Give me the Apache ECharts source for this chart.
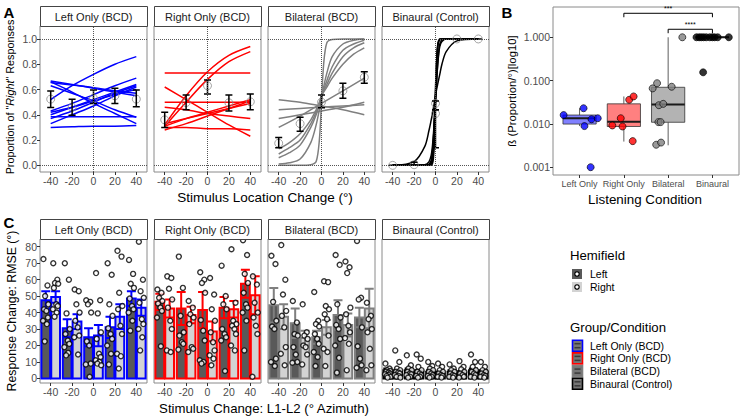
<!DOCTYPE html>
<html>
<head>
<meta charset="utf-8">
<script src="https://cdn.jsdelivr.net/npm/echarts@6/dist/echarts.min.js"></script>
<style>
  html, body { margin: 0; padding: 0; background: #fff; }
  #chart { width: 742px; height: 418px; }
</style>
</head>
<body>
<div id="chart"></div>
<script>
// ---------- data ----------
const panels = ['Left Only (BCD)', 'Right Only (BCD)', 'Bilateral (BCD)', 'Binaural (Control)'];
const stimX = [-40, -20, 0, 20, 40];

// A: fitted psychometric curves (y at stimX)
const leftCurves = [
  [0.52, 0.63, 0.72, 0.80, 0.86],
  [0.43, 0.49, 0.56, 0.63, 0.69],
  [0.40, 0.46, 0.52, 0.58, 0.64],
  [0.37, 0.43, 0.50, 0.57, 0.63],
  [0.33, 0.40, 0.47, 0.55, 0.62],
  [0.42, 0.46, 0.51, 0.56, 0.60],
  [0.667, 0.64, 0.61, 0.58, 0.55],
  [0.655, 0.635, 0.615, 0.59, 0.57],
  [0.63, 0.57, 0.51, 0.44, 0.38],
  [0.66, 0.58, 0.49, 0.41, 0.33],
  [0.385, 0.385, 0.385, 0.385, 0.385],
  [0.30, 0.305, 0.31, 0.31, 0.315]
];
const rightCurves = [
  [0.73, 0.73, 0.73, 0.73, 0.73],
  [0.32, 0.55, 0.74, 0.87, 0.94],
  [0.31, 0.50, 0.68, 0.82, 0.90],
  [0.50, 0.50, 0.50, 0.50, 0.50],
  [0.31, 0.37, 0.42, 0.47, 0.52],
  [0.28, 0.33, 0.39, 0.45, 0.51],
  [0.33, 0.37, 0.41, 0.45, 0.49],
  [0.62, 0.52, 0.42, 0.32, 0.23],
  [0.46, 0.44, 0.41, 0.39, 0.37],
  [0.30, 0.30, 0.29, 0.29, 0.28]
];
const bilatSteepX = [-40, -30, -20, -10, -5, -2, 0, 2, 5, 10, 20, 30, 40];
const bilatSteep = [
  [0, 0, 0, 0.005, 0.03, 0.2, 0.5, 0.8, 0.97, 0.995, 1, 1, 1],
  [0.01, 0.02, 0.05, 0.18, 0.32, 0.44, 0.53, 0.62, 0.73, 0.86, 0.96, 0.99, 1.0],
  [0.06, 0.1, 0.16, 0.3, 0.4, 0.48, 0.54, 0.6, 0.67, 0.78, 0.91, 0.96, 0.99],
  [0.09, 0.14, 0.2, 0.33, 0.42, 0.49, 0.55, 0.59, 0.64, 0.73, 0.86, 0.93, 0.97],
  [0.13, 0.18, 0.25, 0.36, 0.44, 0.5, 0.55, 0.58, 0.62, 0.69, 0.8, 0.88, 0.93]
];
const bilatFlat = [
  [0.52, 0.50, 0.47, 0.44, 0.40],
  [0.44, 0.45, 0.46, 0.47, 0.48],
  [0.37, 0.40, 0.43, 0.46, 0.50],
  [0.30, 0.39, 0.49, 0.59, 0.69]
];
const binauralX = [-40, -20, -10, -6, -4, -3, -2, -1, 0, 1, 2, 3, 4, 6, 10, 20, 40];
const binauralCurves = [
  [0, 0.03, 0.15, 0.28, 0.36, 0.4, 0.45, 0.5, 0.55, 0.6, 0.64, 0.68, 0.72, 0.8, 0.9, 0.985, 1],
  [0, 0, 0, 0, 0.01, 0.03, 0.1, 0.3, 0.55, 0.8, 0.93, 0.98, 0.99, 1, 1, 1, 1],
  [0, 0, 0, 0.01, 0.04, 0.1, 0.2, 0.35, 0.5, 0.65, 0.8, 0.9, 0.96, 0.99, 1, 1, 1],
  [0, 0, 0, 0, 0, 0.01, 0.05, 0.2, 0.5, 0.8, 0.95, 0.99, 1, 1, 1, 1, 1],
  [0, 0, 0.005, 0.03, 0.08, 0.14, 0.24, 0.37, 0.52, 0.67, 0.79, 0.88, 0.94, 0.98, 1, 1, 1],
  [0, 0, 0, 0, 0.02, 0.06, 0.18, 0.4, 0.62, 0.82, 0.94, 0.98, 1, 1, 1, 1, 1]
];
// A: group means [x, mean, lower, upper]
const meanLeft = [[-40, 0.524, 0.457, 0.588], [-20, 0.46, 0.396, 0.524], [0, 0.53, 0.489, 0.596], [20, 0.55, 0.49, 0.61], [40, 0.524, 0.463, 0.596]];
const meanRight = [[-40, 0.36, 0.30, 0.42], [-20, 0.497, 0.44, 0.556], [0, 0.63, 0.564, 0.675], [20, 0.495, 0.43, 0.556], [40, 0.503, 0.44, 0.564]];
const meanBilat = [[-40, 0.175, 0.14, 0.22], [-20, 0.33, 0.27, 0.38], [0, 0.50, 0.455, 0.556], [20, 0.59, 0.53, 0.65], [40, 0.697, 0.65, 0.74]];
const meanBinaural = [[-40, 0, 0, 0], [-20, 0.005, 0, 0.025], [0, 0.49, 0.44, 0.51], [0, 0.41, 0.14, 0.44], [20, 1, 1, 1], [40, 1, 1, 1]];

// B: slopes per listening condition
const condNames = ['Left Only', 'Right Only', 'Bilateral', 'Binaural'];
const boxStats = [   // [low whisker, Q1, median, Q3, high whisker]
  [0.0089, 0.0099, 0.0135, 0.0160, 0.023],
  [0.0039, 0.0087, 0.0112, 0.029, 0.043],
  [0.0032, 0.0109, 0.028, 0.070, 1.0],
  [1.0, 1.0, 1.0, 1.0, 1.0]
];
const betaVals = [
  [0.016, 0.023, 0.0089, 0.0128, 0.0135, 0.001],
  [0.0092, 0.0135, 0.0087, 0.036, 0.043, 0.0040],
  [0.066, 0.087, 0.072, 1.0, 0.027, 0.029, 0.011, 0.011, 0.0033, 0.0037],
  [1, 1, 1, 1, 1, 1, 1, 1, 1, 1, 0.155]
];
const betaJitter = [
  [-0.36, 0.09, 0.11, 0.27, 0.41, 0.25],
  [-0.26, -0.07, -0.03, 0.12, 0.22, 0.20],
  [-0.35, -0.25, 0.08, 0.32, -0.21, -0.11, -0.22, -0.17, -0.27, -0.16],
  [-0.36, -0.3, -0.25, -0.2, -0.14, -0.06, 0.0, 0.05, 0.12, 0.37, -0.21]
];
const sigBrackets = [[2, 4, 3.58, 2.9], [3, 4, 1.53, 1.24]];
const sigLabels = ['***', '****'];

// C: RMSE bars (mean, SE) per panel, hemifield Left = dark, Right = light
const barDark = [
  [47.5, 30.5, 25, 31, 48.5],
  [46.5, 42.5, 41.5, 43, 57.5],
  [44.5, 33.5, 25, 38.5, 37],
  [5, 5, 4, 4, 5]
];
const seDark = [
  [5.5, 5.5, 5.5, 6.5, 4.5],
  [5, 10, 11, 6.5, 8.5],
  [10.5, 9, 4, 9, 6],
  [1, 1, 1, 1, 1]
];
const barLight = [
  [49.5, 34.5, 26, 37.5, 43],
  [42.5, 38.5, 28.5, 42, 50.5],
  [37.5, 24.5, 31, 32.5, 42.5],
  [4, 4, 3, 3.5, 4]
];
const seLight = [
  [3.5, 4.5, 6.5, 7.5, 5],
  [5.5, 5, 6, 5, 11.5],
  [7.5, 4.5, 4.5, 7, 12],
  [1, 1, 1, 1, 1]
];
const ptsDark = [
  [[72.5, 56.5, 50, 45, 42, 41, 37, 35, 33, 22.5], [70, 60, 39.5, 30, 27, 23, 21, 19, 15.5, 14], [47.5, 46.5, 45, 40, 22.5, 20, 9, 8.5, 1], [70, 63, 45, 38, 30.5, 27, 24, 20, 15, 8.5], [72, 63.5, 57.5, 55, 48.5, 44, 42, 40, 35, 29]],
  [[54, 52, 49, 47, 45.5, 43, 41, 37, 19.5], [74, 55, 38, 28, 26, 22, 21, 17.5], [64.5, 60, 58, 52, 35.5, 29, 23, 11, 10, 9], [68.5, 50, 45, 42, 30, 27, 25, 23, 4.5], [84, 75, 63.5, 58, 52, 45, 43, 40, 35, 17]],
  [[74.5, 69.5, 46.5, 35, 31.5, 30, 12, 10, 7.5], [47, 34, 27, 26, 19, 14.5, 10, 9.5], [52.5, 35, 33, 31.5, 27, 24, 21, 16, 13, 7.5], [75, 69, 45, 37, 32.5, 30, 24, 20, 12.5, 3.5], [83.5, 49, 48, 31, 19.5, 12, 8, 6.5]],
  [[9, 6, 5, 4.5, 4, 3.5, 3, 2.5, 2, 1.5, 1, 0.5], [14, 8, 6, 5, 4, 3, 2.5, 2, 1, 0.5], [10, 7.5, 6, 5, 4, 3, 2, 1.5, 1, 0.5], [8.5, 6, 5, 4, 3, 2, 1.5, 1, 0.5], [14.5, 10, 7, 5, 4, 3, 2, 1, 0.5]]
];
const ptsLight = [
  [[70, 60, 58, 57.5, 55, 45, 44, 42, 40, 37.5], [54, 53, 45, 40, 35, 31, 26, 25, 14.5], [64, 47.5, 39.5, 28, 24, 15, 13, 11, 10, 9, 8], [77.5, 74, 52, 44, 42, 32, 27, 15, 13.5, 6], [83, 60, 53, 49, 46, 36, 33, 30, 25, 17]],
  [[62, 61, 54.5, 48, 43, 35, 30, 17, 16], [47, 43, 39, 37, 33, 19, 18, 16], [61, 51, 42, 35, 28, 22, 17, 14, 12, 8], [78.5, 46, 35, 33, 32, 30, 27, 20, 17], [62, 57, 46, 40, 37, 32, 27, 1]],
  [[81, 60, 51, 41, 38, 31, 19, 15, 8], [45, 28, 26, 24, 20, 19, 14.5, 8.5], [59, 58.5, 44, 42, 39, 36, 26, 18, 16, 7.5], [71, 67.5, 64, 43, 39, 32, 28, 24.5, 21, 5], [46, 38, 36, 30, 28, 18, 8, 5]],
  [[17, 10, 6, 5, 4, 3.5, 3, 2, 1.5, 1, 0.5], [14.5, 12, 7, 5, 4, 3, 2, 1.5, 1, 0.5], [9, 7, 5, 4, 3, 2, 1.5, 1, 0.5], [10.5, 7, 5.5, 4, 3, 2, 1, 0.5], [10, 7, 5, 4, 3, 2, 1.5, 1, 0.5]]
];

// ---------- styling / layout ----------
const FONT = '"Liberation Sans", Arial, sans-serif';
const groupColors = ['#0000ff', '#ff0000', '#7f7f7f', '#000000'];
const boxFills = ['#8080ff', '#ff8080', '#b3b3b3', '#b3b3b3'];
const hemiFills = ['#595959', '#d3d3d3'];
const PANEL_LEFT = [40, 154, 268, 382];
const PANEL_W = 107;
const DODGE = 4.6, BAR_W = 8.2, BOX_W = 0.75;
const JITTER = [-2.2, 1.6, -0.6, 2.4, -1.6, 0.6, 2.0, -2.6, 1.0, -1.0, 2.6, -0.2];

const grids = [], xAxes = [], yAxes = [], series = [], graphics = [];

function axis(min, max, ticks, showLabels, showTicks, fmt, extra) {
  return Object.assign({
    type: 'value', min: min, max: max,
    axisLine: { show: false, onZero: false },
    splitLine: { show: false },
    axisTick: { show: showTicks, length: 3, lineStyle: { color: '#333', width: 1 }, customValues: ticks },
    axisLabel: { show: showLabels, customValues: ticks, fontSize: 10.5, color: '#4d4d4d', margin: 3, fontFamily: FONT, formatter: fmt }
  }, extra || {});
}
function addGrid(l, t, w, h, xa, ya) {
  const idx = grids.length;
  grids.push({ left: l, top: t, width: w, height: h, show: true, borderColor: '#8a8a8a', borderWidth: 1 });
  xa.gridIndex = idx; ya.gridIndex = idx;
  xAxes.push(xa); yAxes.push(ya);
  return idx;
}
// error bar drawn as one path: lower cap, stem, upper cap
function errBar(color, capPx, lw) {
  return function (params, api) {
    const x = api.value(0);
    const lo = api.coord([x, api.value(1)]);
    const hi = api.coord([x, api.value(2)]);
    const h = capPx / 2;
    const d = 'M' + (lo[0] - h) + ' ' + lo[1] + 'L' + (lo[0] + h) + ' ' + lo[1] +
      'M' + lo[0] + ' ' + lo[1] + 'L' + hi[0] + ' ' + hi[1] +
      'M' + (hi[0] - h) + ' ' + hi[1] + 'L' + (hi[0] + h) + ' ' + hi[1];
    return { type: 'path', shape: { pathData: d }, style: { stroke: color, lineWidth: lw, fill: 'none' } };
  };
}
function strip(x, y, w, h, label) {
  graphics.push({ type: 'rect', shape: { x: x + 0.5, y: y + 0.5, width: w, height: h }, style: { fill: '#ffffff', stroke: '#444', lineWidth: 1 }, z: 10 });
  graphics.push({ type: 'text', x: x + w / 2, y: y + h / 2 + 1, style: { text: label, fontSize: 11, fontFamily: FONT, fill: '#1a1a1a', align: 'center', verticalAlign: 'middle' }, z: 11 });
}
function text(x, y, s, size, opts) {
  graphics.push(Object.assign({ type: 'text', x: x, y: y, style: Object.assign({ text: s, fontSize: size, fontFamily: FONT, fill: '#000', align: 'center', verticalAlign: 'middle' }, (opts && opts.style) || {}) }, (opts && opts.el) || {}));
}

// ---------- panel A ----------
const curveSets = [
  leftCurves.map(c => c.map((v, k) => [stimX[k], v])),
  rightCurves.map(c => c.map((v, k) => [stimX[k], v])),
  bilatSteep.map(c => c.map((v, k) => [bilatSteepX[k], v])).concat(bilatFlat.map(c => c.map((v, k) => [stimX[k], v]))),
  binauralCurves.map(c => c.map((v, k) => [binauralX[k], v]))
];
const meanSets = [meanLeft, meanRight, meanBilat, meanBinaural];
const yTicksA = [0, 0.2, 0.4, 0.6, 0.8, 1.0];

for (let p = 0; p < 4; p++) {
  const gi = addGrid(PANEL_LEFT[p], 26, PANEL_W, 146,
    axis(-50, 50, stimX, true, true, v => String(v)),
    axis(-0.0525, 1.1025, yTicksA, p === 0, p === 0, v => v.toFixed(1)));
  strip(PANEL_LEFT[p], 6, PANEL_W, 20, panels[p]);
  curveSets[p].forEach((c, ci) => {
    const s = {
      type: 'line', xAxisIndex: gi, yAxisIndex: gi, data: c, showSymbol: false, smooth: 0.3,
      lineStyle: { color: groupColors[p], width: 1.5 }, z: 2, silent: true
    };
    if (ci === 0) {
      s.markLine = {
        silent: true, symbol: 'none', label: { show: false },
        lineStyle: { type: 'dotted', color: '#555', width: 1 },
        data: [{ yAxis: 0 }, { yAxis: 1 }, { xAxis: 0 }]
      };
    }
    series.push(s);
  });
  series.push({
    type: 'scatter', xAxisIndex: gi, yAxisIndex: gi, symbolSize: 8, z: 3,
    itemStyle: { color: 'rgba(255,255,255,0)', borderColor: '#8c8c8c', borderWidth: 1 },
    data: meanSets[p].map(m => [m[0], m[1]])
  });
  series.push({
    type: 'custom', xAxisIndex: gi, yAxisIndex: gi, z: 4,
    renderItem: errBar('#000', 7, 1.5),
    encode: { x: 0, y: [1, 2] },
    data: meanSets[p].map(m => [m[0], m[2], m[3]])
  });
}

// ---------- panel B ----------
const gB = addGrid(553, 7, 186, 168,
  axis(0.4, 4.6, [1, 2, 3, 4], true, true, v => condNames[Math.round(v) - 1], { axisLabel: { customValues: [1, 2, 3, 4], fontSize: 9, color: '#4d4d4d', margin: 4, fontFamily: FONT, formatter: v => condNames[Math.round(v) - 1] } }),
  axis(0.00066, 5.0, [0.001, 0.01, 0.1, 1], true, true, v => Number(v).toFixed(3), { type: 'log', logBase: 10 }));
series.push({
  type: 'custom', xAxisIndex: gB, yAxisIndex: gB, z: 2,
  encode: { x: 0, y: [1, 2, 3, 4, 5] },
  data: boxStats.map((s, i) => [i + 1].concat(s)),
  renderItem: function (params, api) {
    const x = api.value(0);
    const c = v => api.coord([x, v]);
    const xl = api.coord([x - BOX_W / 2, api.value(3)])[0];
    const xr = api.coord([x + BOX_W / 2, api.value(3)])[0];
    const lo = c(api.value(1)), q1 = c(api.value(2)), md = c(api.value(3)), q3 = c(api.value(4)), hi = c(api.value(5));
    const st = { stroke: '#333', lineWidth: 0.8 };
    return { type: 'group', children: [
      { type: 'line', shape: { x1: lo[0], y1: lo[1], x2: q1[0], y2: q1[1] }, style: st },
      { type: 'line', shape: { x1: q3[0], y1: q3[1], x2: hi[0], y2: hi[1] }, style: st },
      { type: 'rect', shape: { x: xl, y: q3[1], width: xr - xl, height: q1[1] - q3[1] }, style: { fill: boxFills[params.dataIndex], stroke: '#333', lineWidth: 0.8 } },
      { type: 'line', shape: { x1: xl, y1: md[1], x2: xr, y2: md[1] }, style: { stroke: '#1a1a1a', lineWidth: 1.8 } }
    ] };
  }
});
betaVals.forEach((vals, i) => {
  series.push({
    type: 'scatter', xAxisIndex: gB, yAxisIndex: gB, symbolSize: 7, z: 3,
    itemStyle: { color: groupColors[i], borderColor: '#000', borderWidth: 0.8 },
    data: vals.map((v, k) => [i + 1 + betaJitter[i][k], v])
  });
});
series.push({
  type: 'custom', xAxisIndex: gB, yAxisIndex: gB, z: 4,
  encode: { x: [0, 1], y: [2, 3] },
  data: sigBrackets,
  renderItem: function (params, api) {
    const a = api.coord([api.value(0), api.value(2)]);
    const b = api.coord([api.value(1), api.value(2)]);
    const a2 = api.coord([api.value(0), api.value(3)]);
    const b2 = api.coord([api.value(1), api.value(3)]);
    return { type: 'group', children: [
      { type: 'polyline', shape: { points: [[a2[0], a2[1]], [a[0], a[1]], [b[0], b[1]], [b2[0], b2[1]]] }, style: { stroke: '#000', lineWidth: 1, fill: null } },
      { type: 'text', x: (a[0] + b[0]) / 2, y: a[1] - 1, style: { text: sigLabels[params.dataIndex], fontSize: 7, fontFamily: FONT, fill: '#000', align: 'center', verticalAlign: 'bottom' } }
    ] };
  }
});

// ---------- panel C ----------
const yTicksC = [0, 10, 20, 30, 40, 50, 60, 70, 80];
for (let p = 0; p < 4; p++) {
  const gi = addGrid(PANEL_LEFT[p], 239, PANEL_W, 144,
    axis(-50, 50, stimX, true, true, v => String(v)),
    axis(-2.8, 84.7, yTicksC, p === 0, p === 0, v => String(v)));
  strip(PANEL_LEFT[p], 219, PANEL_W, 20, panels[p]);
  const sides = [
    { side: -1, bars: barDark[p], se: seDark[p], pts: ptsDark[p], fill: hemiFills[0] },
    { side: 1, bars: barLight[p], se: seLight[p], pts: ptsLight[p], fill: hemiFills[1] }
  ];
  const col = groupColors[p];
  sides.forEach(sd => {
    series.push({
      type: 'custom', xAxisIndex: gi, yAxisIndex: gi, z: 2,
      encode: { x: 0, y: 1 },
      data: sd.bars.map((v, g) => [stimX[g] + sd.side * DODGE, v]),
      renderItem: function (params, api) {
        const x = api.value(0);
        const p0 = api.coord([x - BAR_W / 2, 0]);
        const p1 = api.coord([x + BAR_W / 2, api.value(1)]);
        return { type: 'rect', shape: { x: p0[0], y: p1[1], width: p1[0] - p0[0], height: p0[1] - p1[1] }, style: { fill: sd.fill, stroke: col, lineWidth: 2 } };
      }
    });
  });
  sides.forEach(sd => {
    series.push({
      type: 'custom', xAxisIndex: gi, yAxisIndex: gi, z: 3,
      encode: { x: 0, y: [1, 2] },
      renderItem: errBar(col, 9, 2),
      data: sd.bars.map((v, g) => [stimX[g] + sd.side * DODGE, v - sd.se[g], v + sd.se[g]])
    });
  });
  sides.forEach(sd => {
    const data = [];
    sd.pts.forEach((arr, g) => arr.forEach((v, k) => data.push([stimX[g] + sd.side * DODGE + JITTER[k % JITTER.length], v])));
    series.push({
      type: 'scatter', xAxisIndex: gi, yAxisIndex: gi, symbolSize: 5, z: 4,
      itemStyle: { color: '#ffffff', borderColor: '#000', borderWidth: 1.4 },
      data: data
    });
  });
}

// ---------- titles, letters, legend ----------
text(9, 12, 'A', 15, { style: { fontWeight: 'bold' } });
text(507, 12, 'B', 15, { style: { fontWeight: 'bold' } });
text(9, 222, 'C', 15, { style: { fontWeight: 'bold' } });
text(10, 97, 'Proportion of "{i|Right}" Responses', 10.8, { el: { rotation: Math.PI / 2 }, style: { rich: { i: { fontStyle: 'italic', fontSize: 10.8, fontFamily: FONT } } } });
text(265, 197, 'Stimulus Location Change (°)', 13.5);
text(512, 91, 'ß (Proportion/°)[log10]', 11.3, { el: { rotation: Math.PI / 2 } });
text(645, 199, 'Listening Condition', 13.4);
text(12, 311, 'Response Change: RMSE (°)', 12.3, { el: { rotation: Math.PI / 2 } });
text(264, 408, 'Stimulus Change: L1-L2 (° Azimuth)', 13.2);

text(570, 255, 'Hemifield', 13.2, { style: { align: 'left' } });
['Left', 'Right'].forEach((lab, i) => {
  const cy = 274 + i * 13;
  graphics.push({ type: 'rect', shape: { x: 572, y: cy - 5, width: 10, height: 10 }, style: { fill: hemiFills[i] } });
  graphics.push({ type: 'circle', shape: { cx: 577, cy: cy, r: 2.2 }, style: { fill: '#fff', stroke: '#000', lineWidth: 1.2 } });
  text(590, cy, lab, 10.5, { style: { align: 'left' } });
});
text(570, 327, 'Group/Condition', 13.2, { style: { align: 'left' } });
panels.forEach((lab, i) => {
  const cy = 345.7 + i * 12.7;
  graphics.push({ type: 'rect', shape: { x: 572.5, y: cy - 5.5, width: 10, height: 11 }, style: { fill: '#767676', stroke: groupColors[i], lineWidth: 1.6 } });
  graphics.push({ type: 'line', shape: { x1: 574.5, y1: cy - 2, x2: 580.5, y2: cy - 2 }, style: { stroke: '#3a3a3a', lineWidth: 1.5 } });
  graphics.push({ type: 'line', shape: { x1: 574.5, y1: cy + 2, x2: 580.5, y2: cy + 2 }, style: { stroke: '#3a3a3a', lineWidth: 1.5 } });
  text(590, cy, lab, 10.5, { style: { align: 'left' } });
});

const chart = echarts.init(document.getElementById('chart'), null, { renderer: 'svg' });
chart.setOption({
  animation: false,
  backgroundColor: '#ffffff',
  textStyle: { fontFamily: FONT },
  grid: grids,
  xAxis: xAxes,
  yAxis: yAxes,
  series: series,
  graphic: graphics
});
</script>
</body>
</html>
